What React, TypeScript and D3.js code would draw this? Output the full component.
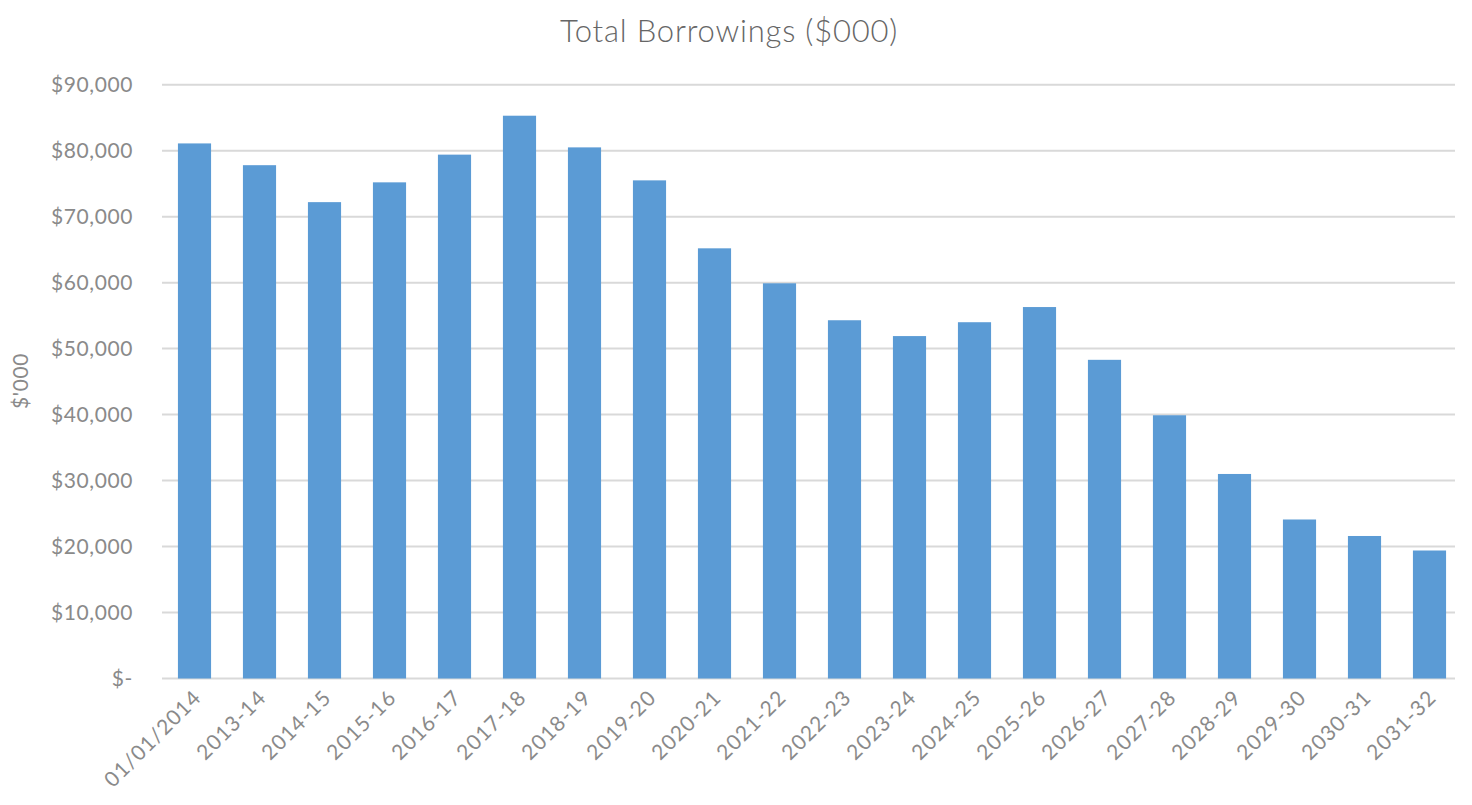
import React from "react";
import * as d3 from "d3";

const categories = ["01/01/2014","2013-14","2014-15","2015-16","2016-17","2017-18","2018-19","2019-20","2020-21","2021-22","2022-23","2023-24","2024-25","2025-26","2026-27","2027-28","2028-29","2029-30","2030-31","2031-32"];
const borrowings = [81100,77800,72200,75200,79400,85300,80500,75500,65200,59900,54300,51900,54000,56300,48300,39900,31000,24100,21600,19400];
const yTicks = [0,10000,20000,30000,40000,50000,60000,70000,80000,90000];

const W = 1472, H = 805;
const left = 162, right = 1462, top = 84.7, bottom = 678.5;

export default function App() {
  const x = d3.scaleBand<string>().domain(categories).range([left, right]).paddingInner(0.49).paddingOuter(0.245);
  const y = d3.scaleLinear().domain([0, 90000]).range([bottom, top]);
  const fmt = (v: number) => v === 0 ? "$-" : "$" + d3.format(",")(v);
  const font = "'Lato', 'Open Sans', sans-serif";
  return (
    <svg width={W} height={H} style={{ position: "absolute", left: 0, top: 0, background: "#fff" }} fontFamily={font}>
      <text x={729} y={42} textAnchor="middle" fontSize={31} letterSpacing={0.8} fill="#666666" fontWeight={300}>Total Borrowings ($000)</text>
      {yTicks.map(t => (
        <g key={t}>
          <line x1={left} x2={1455} y1={y(t)} y2={y(t)} stroke="#d9d9d9" strokeWidth={2} />
          <text x={133} y={y(t)} dy="0.35em" textAnchor="end" fontSize={21} letterSpacing={0.6} fill="#8a8a8a">{fmt(t)}</text>
        </g>
      ))}
      <text transform={`translate(28,${381}) rotate(-90)`} textAnchor="middle" fontSize={21} letterSpacing={0.6} fill="#8a8a8a">$'000</text>
      {categories.map((c, i) => (
        <rect key={c} x={x(c)} y={y(borrowings[i])} width={x.bandwidth()} height={y(0) - y(borrowings[i])} fill="#5b9bd5" />
      ))}
      {categories.map(c => {
        const cx = (x(c) as number) + x.bandwidth() / 2;
        return (
          <text key={c} transform={`translate(${cx + 8},${699}) rotate(-45)`} textAnchor="end" fontSize={21} letterSpacing={1} fill="#8a8a8a">{c}</text>
        );
      })}
    </svg>
  );
}
